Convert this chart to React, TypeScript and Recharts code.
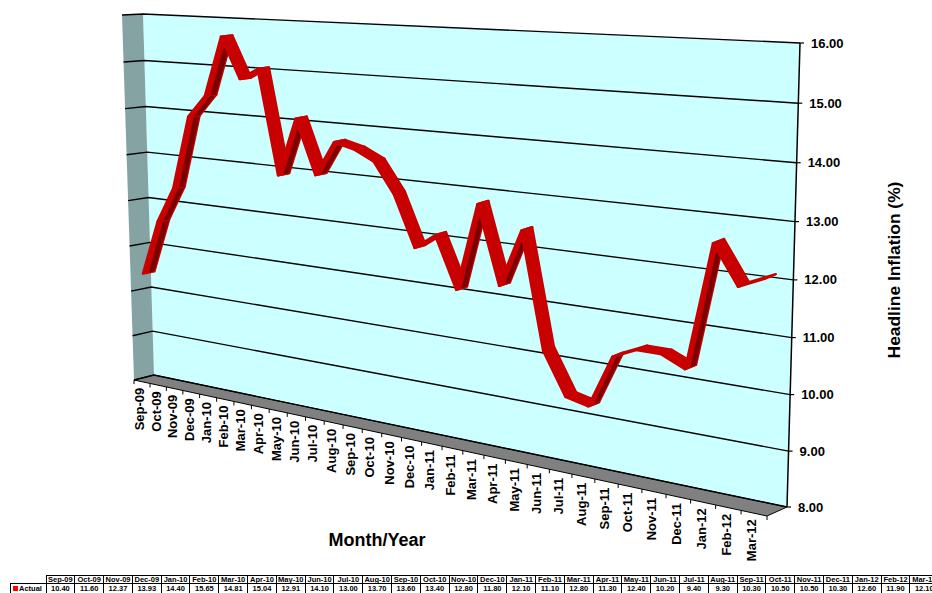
import React from "react";
import { ComposedChart, Line, XAxis, YAxis, CartesianGrid } from "recharts";

const months = ["Sep-09","Oct-09","Nov-09","Dec-09","Jan-10","Feb-10","Mar-10","Apr-10","May-10","Jun-10","Jul-10","Aug-10","Sep-10","Oct-10","Nov-10","Dec-10","Jan-11","Feb-11","Mar-11","Apr-11","May-11","Jun-11","Jul-11","Aug-11","Sep-11","Oct-11","Nov-11","Dec-11","Jan-12","Feb-12","Mar-12"];
const actual = [10.4,11.6,12.37,13.93,14.4,15.65,14.81,15.04,12.91,14.1,13.0,13.7,13.6,13.4,12.8,11.8,12.1,11.1,12.8,11.3,12.4,10.2,9.4,9.3,10.3,10.5,10.5,10.3,12.6,11.9,12.1];
const yTicks = [8,9,10,11,12,13,14,15,16];
const data = months.map((month, i) => ({ month, actual: actual[i] }));

const W = 932, H = 593;
const M = { left: 100, right: 100, top: 50, bottom: 133 };
const PL = M.left + 1;
const PW = W - M.left - M.right - 1, PH = H - M.top - M.bottom - 1;
const FONT = "'Liberation Sans', Arial, sans-serif";

type Pt = [number, number];
function homography(bl: Pt, br: Pt, tr: Pt, tl: Pt) {
  const [x0, y0] = bl, [x1, y1] = br, [x2, y2] = tr, [x3, y3] = tl;
  const dx1 = x1 - x2, dx2 = x3 - x2, sx = x0 - x1 + x2 - x3;
  const dy1 = y1 - y2, dy2 = y3 - y2, sy = y0 - y1 + y2 - y3;
  const den = dx1 * dy2 - dx2 * dy1;
  const g = (sx * dy2 - dx2 * sy) / den, h = (dx1 * sy - sx * dy1) / den;
  const a = x1 - x0 + g * x1, b = x3 - x0 + h * x3, d = y1 - y0 + g * y1, e = y3 - y0 + h * y3;
  return (u: number, v: number): Pt => {
    const w = g * u + h * v + 1;
    return [(a * u + b * v + x0) / w, (d * u + e * v + y0) / w];
  };
}
const back = homography([154, 375], [787, 507], [800, 43], [143, 14]);
const front = homography([134, 380], [767, 516], [780, 50], [122, 15]);
const depth = (u: number, v: number, t: number): Pt => {
  const a = back(u, v), b = front(u, v);
  return [a[0] + (b[0] - a[0]) * t, a[1] + (b[1] - a[1]) * t];
};
const toU = (x: number) => (x - PL) / PW;
const toV = (y: number) => (M.top + PH - y) / PH;
const poly = (pts: Pt[]) => pts.map((p) => p.join(",")).join(" ");

const GridLine = (p: any) => {
  const v = toV(p.y1);
  return <polyline key={p.key ?? v} points={poly([front(0, v), back(0, v), back(1, v)])} fill="none" stroke="#000" strokeWidth={1.4} />;
};

const XTick = (p: any) => {
  const u = toU(p.x);
  const half = 0.5 / months.length;
  const [lx, ly] = front(u, 0);
  const a = front(u - half, 0);
  const isLast = p.index === months.length - 1;
  const b = front(u + half, 0);
  return (
    <g>
      <line x1={a[0]} y1={a[1]} x2={a[0]} y2={a[1] + 4} stroke="#000" strokeWidth={1} />
      {isLast && <line x1={b[0]} y1={b[1]} x2={b[0]} y2={b[1] + 4} stroke="#000" strokeWidth={1} />}
      <text x={lx + 2.5} y={ly + 6} transform={`rotate(-90 ${lx + 2.5} ${ly + 6})`} textAnchor="end" fontFamily={FONT} fontWeight={700} fontSize={13} fill="#000">{p.payload.value}</text>
    </g>
  );
};

const YTick = (p: any) => {
  const v = toV(p.y);
  const [x, y] = back(1, v);
  return (
    <g>
      <line x1={x} y1={y} x2={x + 4} y2={y} stroke="#000" strokeWidth={1.2} />
      <text x={x + 11} y={y + 4.5} textAnchor="start" fontFamily={FONT} fontWeight={700} fontSize={13} fill="#000">{Number(p.payload.value).toFixed(2)}</text>
    </g>
  );
};

const RibbonDot = (p: any) => {
  const pts = p.points || [];
  const i = p.index;
  const key = `r${i}`;
  if (i >= pts.length - 1) return <g key={key} />;
  const u0 = toU(pts[i].x), v0 = toV(pts[i].y), u1 = toU(pts[i + 1].x), v1 = toV(pts[i + 1].y);
  const tb = 0.22, tm = 0.5, tf = 0.78;
  const quad = (ta: number, tz: number) => poly([depth(u0, v0, ta), depth(u1, v1, ta), depth(u1, v1, tz), depth(u0, v0, tz)]);
  const rising = actual[i + 1] - actual[i] > 0.45;
  return (
    <g key={key}>
      <polygon points={quad(tb, tf)} fill="#c80000" stroke="#c80000" strokeWidth={2.5} strokeLinejoin="round" />
      {rising && <polygon points={quad(tb, tm)} fill="#7a0000" />}
    </g>
  );
};

export default function App() {
  const wallPts = poly([back(0, 0), back(1, 0), back(1, 1), back(0, 1)]);
  const sidePts = poly([front(0, 0), back(0, 0), back(0, 1), front(0, 1)]);
  const floorPts = poly([front(0, 0), front(1, 0), back(1, 0), back(0, 0)]);
  const cell: React.CSSProperties = { border: "1px solid #000", padding: 0, textAlign: "center", overflow: "hidden", whiteSpace: "nowrap", width: 28.8, boxSizing: "border-box" };
  return (
    <div style={{ position: "absolute", left: 0, top: 0, width: W, height: H, overflow: "hidden", background: "#fff" }}>
      <svg width={W} height={H} style={{ position: "absolute", left: 0, top: 0 }}>
        <polygon points={wallPts} fill="#ccffff" />
        <polygon points={sidePts} fill="#86a3a3" />
        <polygon points={floorPts} fill="#808080" stroke="#000" strokeWidth={1} />
      </svg>
      <ComposedChart width={W} height={H} data={data} margin={M} style={{ position: "absolute", left: 0, top: 0 }}>
        <CartesianGrid vertical={false} horizontal={GridLine as any} />
        <line x1={back(1, 0)[0]} y1={back(1, 0)[1]} x2={back(1, 1)[0]} y2={back(1, 1)[1]} stroke="#000" strokeWidth={1.5} />
        <XAxis dataKey="month" scale="band" height={1} interval={0} axisLine={false} tickLine={false} tick={XTick as any} />
        <YAxis domain={[8, 16]} ticks={yTicks} width={1} interval={0} axisLine={false} tickLine={false} tick={YTick as any} />
        <Line dataKey="actual" name="Actual" stroke="none" isAnimationActive={false} dot={RibbonDot as any} activeDot={false} />
        <text x={377} y={546} textAnchor="middle" fontFamily={FONT} fontWeight={700} fontSize={18} fill="#000">Month/Year</text>
        <text x={900} y={270} transform="rotate(-90 900 270)" textAnchor="middle" fontFamily={FONT} fontWeight={700} fontSize={17.4} fill="#000">Headline Inflation (%)</text>
      </ComposedChart>
      <table style={{ position: "absolute", left: 10, top: 575, borderCollapse: "collapse", tableLayout: "fixed", width: 35 + 28.8 * 31, fontFamily: FONT, fontWeight: 700, fontSize: 7.5, lineHeight: "7px", color: "#000" }}>
        <tbody>
          <tr style={{ height: 8 }}>
            <td style={{ width: 35, padding: 0, border: "none" }} />
            {months.map((m) => <td key={m} style={cell}>{m}</td>)}
          </tr>
          <tr style={{ height: 10 }}>
            <td style={{ ...cell, width: 35, textAlign: "left", whiteSpace: "nowrap" }}>
              <span style={{ display: "inline-block", width: 5, height: 5, background: "#ff0000", margin: "0 1px 0 2px" }} />Actual
            </td>
            {actual.map((v, i) => <td key={i} style={cell}>{v.toFixed(2)}</td>)}
          </tr>
        </tbody>
      </table>
    </div>
  );
}
